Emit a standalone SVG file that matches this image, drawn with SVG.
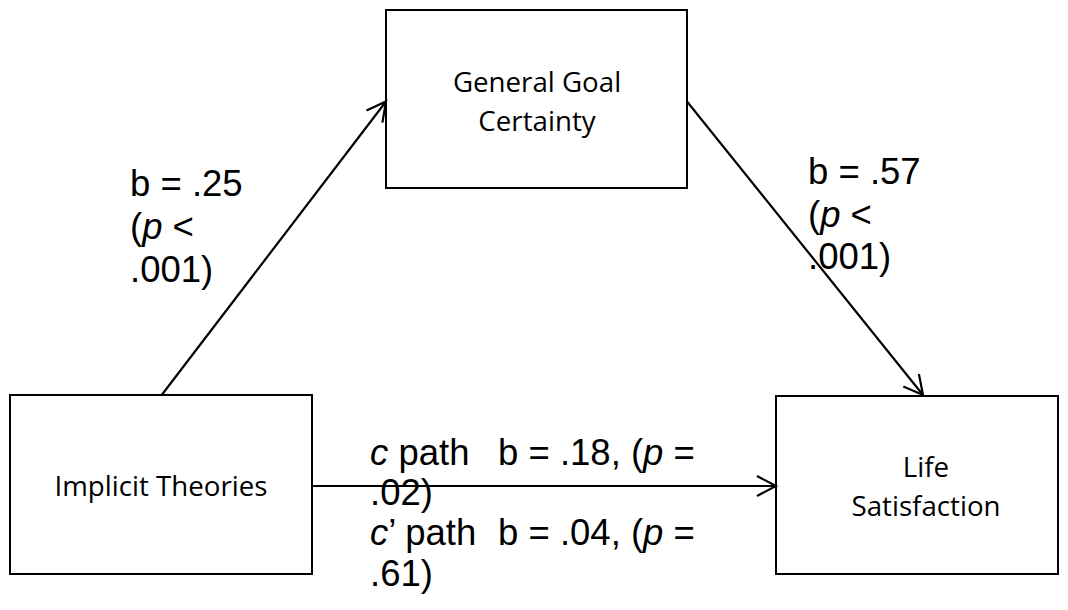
<svg xmlns="http://www.w3.org/2000/svg" width="1068" height="610" viewBox="0 0 1068 610">
<style>
.box{fill:#fff;stroke:#000;stroke-width:2}
.lbl{font-family:"Open Sans",sans-serif;font-size:27.7px;fill:#000;text-anchor:middle}
.stat{font-family:"Liberation Sans",Arial,sans-serif;font-size:36.5px;fill:#000}
.it{font-style:italic}
.conn{stroke:#000;stroke-width:2.2;fill:none;marker-end:url(#arr)}
</style>
<defs>
<marker id="arr" markerUnits="userSpaceOnUse" markerWidth="30" markerHeight="30" viewBox="-25 -15 30 30" refX="0" refY="0" orient="auto">
<path d="M -19 -10 L 0 0 L -19 10" fill="none" stroke="#000" stroke-width="2.2"/>
</marker>
</defs>
<rect width="1068" height="610" fill="#fff"/>
<g id="node-goal">
<rect class="box" x="386" y="10" width="301" height="178"/>
<text class="lbl" x="537" y="92">General Goal</text>
<text class="lbl" x="537" y="131">Certainty</text>
</g>
<g id="node-implicit">
<rect class="box" x="10" y="395" width="302" height="179"/>
<text class="lbl" x="161" y="496">Implicit Theories</text>
</g>
<g id="node-life">
<rect class="box" x="776" y="396" width="282" height="178"/>
<text class="lbl" x="926" y="477">Life</text>
<text class="lbl" x="926" y="516">Satisfaction</text>
</g>
<g id="connectors">
<line class="conn" x1="161.7" y1="395" x2="386" y2="101.5"/>
<line class="conn" x1="687" y1="101.5" x2="923" y2="395"/>
<line class="conn" x1="312" y1="486" x2="776" y2="486"/>
</g>
<g id="labels">
<text class="stat" x="130" y="196">b = .25</text>
<text class="stat" x="130" y="239">(<tspan class="it">p</tspan> &lt;</text>
<text class="stat" x="130" y="282">.001)</text>
<text class="stat" x="808" y="184">b = .57</text>
<text class="stat" x="808" y="226.5">(<tspan class="it">p</tspan> &lt;</text>
<text class="stat" x="808" y="269">.001)</text>
<text class="stat" x="370" y="465"><tspan class="it">c</tspan> path<tspan x="498">b = .18, (</tspan><tspan class="it">p</tspan> =</text>
<text class="stat" x="370" y="505">.02)</text>
<text class="stat" x="370" y="545"><tspan class="it">c</tspan>’ path<tspan x="498">b = .04, (</tspan><tspan class="it">p</tspan> =</text>
<text class="stat" x="370" y="586">.61)</text>
</g>
</svg>
